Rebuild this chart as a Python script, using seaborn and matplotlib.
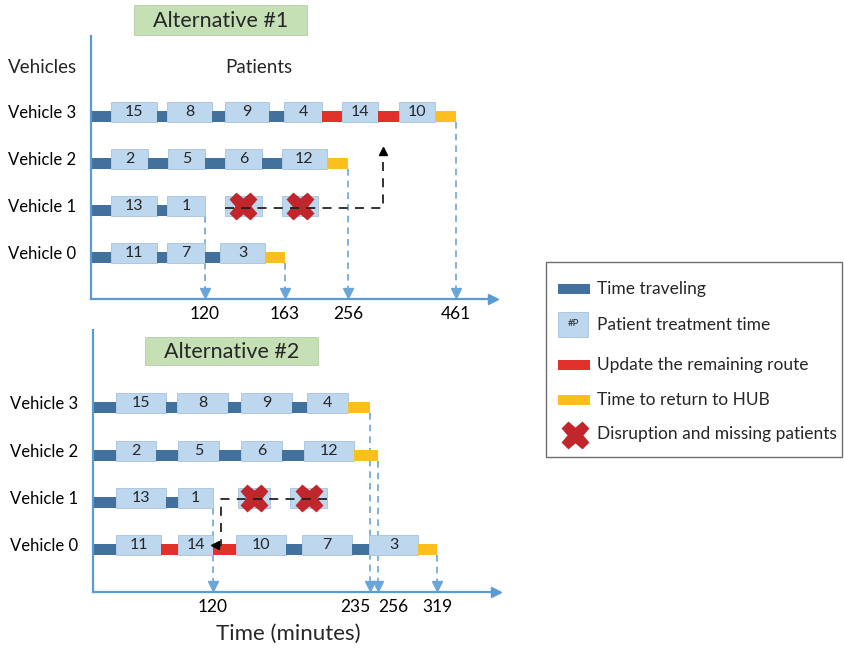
import matplotlib
matplotlib.use("Agg")
import matplotlib.pyplot as plt
import seaborn as sns
from matplotlib.patches import Rectangle

sns.set_theme(style="white")
plt.rcParams['font.family'] = ['Lato', 'DejaVu Sans']

c_travel = '#41719C'
c_patient = '#BDD7EE'
c_update = '#E0322A'
c_hub = '#FCBF1E'
c_cross = '#C0262C'
c_axis = '#5B9BD5'

vehicles = ['Vehicle 0', 'Vehicle 1', 'Vehicle 2', 'Vehicle 3']

# segments: (kind, length in schematic minutes, patient)
# T travel, P patient, U update route, H back to hub, G idle, X missed patient
alt1_v0 = [('T', 20), ('P', 46, '11'), ('T', 10), ('P', 38, '7'), ('T', 15), ('P', 45, '3'), ('H', 20)]
alt1_v1 = [('T', 20), ('P', 46, '13'), ('T', 10), ('P', 38, '1'), ('G', 20), ('X', 37), ('G', 20), ('X', 36)]
alt1_v2 = [('T', 20), ('P', 37, '2'), ('T', 20), ('P', 37, '5'), ('T', 20), ('P', 37, '6'), ('T', 20),
           ('P', 45, '12'), ('H', 21)]
alt1_v3 = [('T', 20), ('P', 46, '15'), ('T', 10), ('P', 45, '8'), ('T', 13), ('P', 44, '9'), ('T', 15),
           ('P', 38, '4'), ('U', 20), ('P', 36, '14'), ('U', 21), ('P', 36, '10'), ('H', 21)]
alt1_ticks = ['120', '163', '256', '461']
alt1_tick_vehicle = [1, 0, 2, 3]
alt1_reroute_x = 292

alt2_v0 = [('T', 23), ('P', 45, '11'), ('U', 17), ('P', 35, '14'), ('U', 23), ('P', 50, '10'), ('T', 16),
           ('P', 50, '7'), ('T', 17), ('P', 49, '3'), ('H', 19)]
alt2_v1 = [('T', 23), ('P', 50, '13'), ('T', 12), ('P', 35, '1'), ('G', 25), ('X', 32), ('G', 20), ('X', 37)]
alt2_v2 = [('T', 23), ('P', 40, '2'), ('T', 22), ('P', 41, '5'), ('T', 22), ('P', 41, '6'), ('T', 22),
           ('P', 50, '12'), ('H', 24)]
alt2_v3 = [('T', 23), ('P', 50, '15'), ('T', 11), ('P', 51, '8'), ('T', 13), ('P', 51, '9'), ('T', 15),
           ('P', 41, '4'), ('H', 22)]
alt2_ticks = ['120', '235', '256', '319']
alt2_tick_vehicle = [1, 3, 2, 0]
alt2_tick_ha = ['center', 'right', 'left', 'center']
alt2_reroute_x = 128

legend_labels = ['Time traveling', 'Patient treatment time', 'Update the remaining route',
                 'Time to return to HUB', 'Disruption and missing patients']

bar_colors = {'T': c_travel, 'U': c_update, 'H': c_hub}
bar_h = 0.23
box_h = 0.42
fs = 12.5

W, H = 844, 648
fig = plt.figure(figsize=(W / 100, H / 100), dpi=100)

# overlay in pixel units for titles and legend
ov = fig.add_axes([0, 0, 1, 1])
ov.set_xlim(0, W)
ov.set_ylim(H, 0)
ov.axis('off')


def panel(rect_px, xmax, ylo, yhi):
    l, t, r, b = rect_px
    ax = fig.add_axes([l / W, (H - b) / H, (r - l) / W, (b - t) / H])
    ax.set_facecolor('none')
    ax.set_xlim(0, xmax)
    ax.set_ylim(ylo, yhi)
    for s in ['top', 'right']:
        ax.spines[s].set_visible(False)
    for s in ['left', 'bottom']:
        ax.spines[s].set_color(c_axis)
        ax.spines[s].set_linewidth(1.6)
    ax.plot(1, 0, '>', transform=ax.transAxes, color=c_axis, ms=7, clip_on=False)
    ax.set_yticks([r + 0.22 for r in range(len(vehicles))], vehicles)
    ax.tick_params(axis='both', length=0, labelsize=fs, colors='black')
    ax.tick_params(axis='y', labelsize=12, pad=11)
    ax.tick_params(axis='x', pad=5)
    ax.grid(False)
    return ax


def draw_routes(ax, routes):
    ends, gaps = [], []
    for row, segs in enumerate(routes):
        x = 0
        served = 0
        first_x = None
        last_x = None
        for seg in segs:
            kind, dur = seg[0], seg[1]
            if kind in ('P', 'X'):
                ax.barh(row, dur, left=x, height=box_h, align='edge', color=c_patient,
                        edgecolor='#A7C2DC', linewidth=0.6, zorder=2)
                if kind == 'P':
                    ax.text(x + dur / 2, row + box_h / 2, seg[2], ha='center', va='center',
                            fontsize=11.5, zorder=3)
                else:
                    ax.plot(x + dur / 2, row + box_h / 2, marker='X', ms=19, color=c_cross,
                            mec=c_cross, zorder=4)
                    if first_x is None:
                        first_x = x
                    last_x = x + dur
            elif kind in bar_colors:
                ax.barh(row, dur, left=x, height=bar_h, align='edge', color=bar_colors[kind],
                        linewidth=0, zorder=2)
            if kind not in ('G', 'X'):
                served = x + dur
            x += dur
        ends.append(served)
        gaps.append((first_x, last_x))
    return ends, gaps


def drop_lines(ax, ends, tick_vehicle, labels, ylo):
    xs = [ends[v] for v in tick_vehicle]
    for x, v in zip(xs, tick_vehicle):
        ax.plot([x, x], [v, ylo + 0.12], ls=(0, (4, 3)), color='#6AA6DA', lw=1.2, zorder=1)
        ax.plot(x, ylo + 0.12, marker='v', color='#6AA6DA', ms=7, zorder=1)
    ax.set_xticks(xs, labels)


# ---- Alternative #1
ax1 = panel((91, 36, 493, 299), 402, -0.766, 4.83)
ends1, gaps1 = draw_routes(ax1, [alt1_v0, alt1_v1, alt1_v2, alt1_v3])
drop_lines(ax1, ends1, alt1_tick_vehicle, alt1_ticks, -0.766)
x0 = gaps1[1][0]
ax1.plot([x0, alt1_reroute_x, alt1_reroute_x], [1.17, 1.17, 2.36], ls=(0, (5, 4)), color='#222222',
         lw=1.3, zorder=5)
ax1.plot(alt1_reroute_x, 2.38, marker='^', color='black', ms=6, zorder=5)
ax1.text(-83, 4.17, 'Vehicles', ha='left', va='center', fontsize=13.5)
ax1.text(168, 4.17, 'Patients', ha='center', va='center', fontsize=13.5)

# ---- Alternative #2
ax2 = panel((93, 330, 496, 592), 403, -0.78, 4.76)
ends2, gaps2 = draw_routes(ax2, [alt2_v0, alt2_v1, alt2_v2, alt2_v3])
drop_lines(ax2, ends2, alt2_tick_vehicle, alt2_ticks, -0.78)
for lbl, ha in zip(ax2.get_xticklabels(), alt2_tick_ha):
    lbl.set_ha(ha)
ax2.plot([gaps2[1][1], alt2_reroute_x, alt2_reroute_x, ends2[1] + 3], [1.19, 1.19, 0.21, 0.21],
         ls=(0, (5, 4)), color='#222222', lw=1.3, zorder=5)
ax2.plot(ends2[1] + 2, 0.21, marker='<', color='black', ms=6, zorder=5)

# titles
for (l, t, r, b), txt in [((134, 5, 307, 35), 'Alternative #1'), ((145, 337, 318, 365), 'Alternative #2')]:
    ov.add_patch(Rectangle((l, t), r - l, b - t, facecolor='#C5E0B4', edgecolor='#B5CFA5', lw=0.6))
    ov.text((l + r) / 2, (t + b) / 2 + 1, txt, ha='center', va='center', fontsize=15.5)

ov.text(288, 634, 'Time (minutes)', ha='center', va='center', fontsize=16)

# legend
ov.add_patch(Rectangle((546, 262), 296, 195, facecolor='white', edgecolor='#6E6E6E', lw=1))
leg_y = [289, 325, 365, 400, 434]
ov.add_patch(Rectangle((558, 284), 32, 10, color=c_travel, lw=0))
ov.add_patch(Rectangle((558, 312), 30, 25, facecolor=c_patient, edgecolor='#A7C2DC', lw=0.6))
ov.text(573, 324, '#P', ha='center', va='center', fontsize=7)
ov.add_patch(Rectangle((558, 360), 32, 10, color=c_update, lw=0))
ov.add_patch(Rectangle((558, 395), 32, 10, color=c_hub, lw=0))
ov.plot(575, 435, marker='X', ms=19, color=c_cross)
for y, lab in zip(leg_y, legend_labels):
    ov.text(597, y, lab, ha='left', va='center', fontsize=fs)

fig.savefig('out.png', dpi=100)
